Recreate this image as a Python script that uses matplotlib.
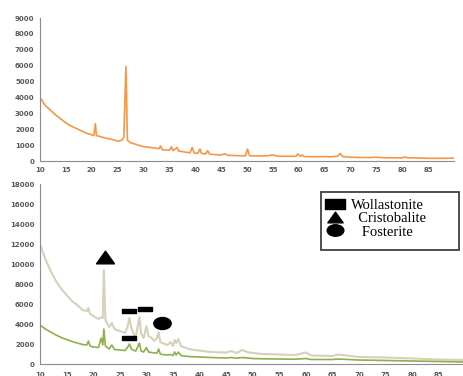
import matplotlib
matplotlib.use("Agg")
import matplotlib.pyplot as plt
from matplotlib.path import Path
from matplotlib.transforms import Affine2D
from matplotlib.lines import Line2D
from matplotlib.patches import Rectangle

# top pattern (orange)
top_x = [10, 11, 12, 13, 14, 15, 16, 17, 18, 19, 20, 20.4, 20.7, 20.9, 21.5, 22, 23, 24, 25,
         25.8, 26.2, 26.6, 26.9, 27.5, 28, 29, 30, 31, 32, 33, 33.3, 33.6, 34, 35, 35.4, 35.7,
         36.5, 36.8, 37.5, 38, 39, 39.4, 39.8, 40.5, 40.9, 41.2, 42, 42.4, 42.8, 44, 45, 45.8,
         46.2, 47, 48, 49, 49.7, 50.1, 50.5, 52, 54, 55, 56, 58, 59.5, 59.8, 60.3, 60.7, 61, 63,
         65, 66, 67.5, 68, 68.5, 70, 72, 74, 75, 76, 78, 80, 80.5, 81, 83, 85, 88, 90]
top_y = [4000, 3500, 3200, 2900, 2650, 2400, 2200, 2050, 1900, 1750, 1650, 1600, 2350, 1600, 1550,
         1500, 1420, 1350, 1250, 1300, 1500, 5950, 1300, 1150, 1100, 1000, 900, 870, 820, 780, 950,
         720, 700, 680, 900, 650, 850, 620, 600, 560, 520, 850, 500, 480, 750, 480, 450, 650, 430,
         400, 380, 450, 360, 350, 340, 330, 330, 750, 330, 320, 330, 380, 300, 300, 300, 450, 300,
         380, 280, 270, 280, 260, 300, 480, 280, 240, 220, 220, 240, 210, 200, 200, 260, 200, 190,
         170, 170, 180]

# bottom patterns
bot_x = [10, 11, 12, 13, 14, 15, 16, 17, 18, 18.8, 19.1, 19.4, 20, 21, 21.5, 21.8, 22, 22.3, 23,
         23.5, 24, 25, 26, 26.5, 26.8, 27.2, 27.7, 28, 28.7, 29, 29.5, 30, 30.4, 31, 31.5, 32,
         32.3, 32.6, 33, 34, 34.5, 35, 35.3, 35.6, 36, 36.5, 37, 38, 39, 40, 42, 45, 46, 47, 48,
         49, 50, 52, 55, 58, 60, 61, 65, 66, 70, 75, 80, 85, 90]
beige_y = [12000, 10500, 9300, 8300, 7500, 6900, 6300, 5900, 5400, 5300, 5600, 5000, 4800, 4500,
           4700, 4600, 9400, 4400, 3700, 4100, 3500, 3300, 3100, 3800, 4600, 3600, 2900, 2700, 4700,
           3000, 2600, 3800, 2800, 2600, 2300, 2600, 3200, 2200, 2100, 1900, 2200, 1800, 2400,
           2100, 2500, 1800, 1700, 1500, 1400, 1350, 1200, 1150, 1300, 1100, 1400, 1200, 1100,
           1000, 950, 900, 1150, 850, 800, 950, 700, 650, 550, 450, 400]
green_y = [3900, 3500, 3200, 2900, 2650, 2450, 2250, 2100, 1950, 1900, 2300, 1800, 1700, 1650,
           2600, 1900, 3500, 1800, 1500, 1900, 1450, 1400, 1350, 1700, 2000, 1500, 1350, 1300, 2100,
           1300, 1200, 1650, 1200, 1150, 1100, 1100, 1500, 1000, 950, 900, 950, 850, 1200, 900,
           1200, 850, 800, 750, 720, 700, 650, 600, 650, 580, 650, 600, 550, 520, 500, 480, 550,
           450, 450, 500, 400, 350, 300, 250, 200]

# phase markers
phases = ["Wollastonite", "Cristobalite", "Fosterite"]
wol_x = [26.8, 29.7, 26.8]
wol_y = [5300, 5500, 2600]
cri_x = [22.2]
cri_y = [10700]
fos_x = [33.0]
fos_y = [4100]

tick_color = "#595959"
spine_color = "#8c8c8c"

closed = [Path.MOVETO, Path.LINETO, Path.LINETO, Path.LINETO, Path.CLOSEPOLY]
rect_marker = Path([(-1.5, -0.5), (1.5, -0.5), (1.5, 0.5), (-1.5, 0.5), (-1.5, -0.5)], closed)
rect_leg = Path([(-1.0, -0.45), (1.0, -0.45), (1.0, 0.45), (-1.0, 0.45), (-1.0, -0.45)], closed)
tri_marker = Path([(-0.5, -0.35), (0.5, -0.35), (0.0, 0.35), (-0.5, -0.35)],
                  [Path.MOVETO, Path.LINETO, Path.LINETO, Path.CLOSEPOLY])
circ = Path.unit_circle()
ell_marker = Path(Affine2D().scale(1.45, 1.0).transform(circ.vertices), circ.codes)


def style_axes(ax, ymax, ystep):
    ax.set_xlim(10, 90)
    ax.set_ylim(0, ymax)
    ax.set_xticks(range(10, 90, 5))
    ax.set_yticks(range(0, ymax + 1, ystep))
    ax.tick_params(length=0, labelsize=5, colors=tick_color, pad=4)
    for t in ax.get_xticklabels() + ax.get_yticklabels():
        t.set_fontweight("bold")
    ax.spines["top"].set_visible(False)
    ax.spines["right"].set_visible(False)
    ax.spines["left"].set_color(spine_color)
    ax.spines["bottom"].set_color(spine_color)
    ax.patch.set_alpha(0)


fig = plt.figure(figsize=(4.63, 3.76), dpi=100)

ax1 = fig.add_axes([0.0864, 0.5718, 0.894, 0.3803])
ax1.plot(top_x, top_y, color="#F79646", lw=1.2)
style_axes(ax1, 9000, 1000)

ax2 = fig.add_axes([0.0864, 0.0319, 0.919, 0.4787])
ax2.plot(bot_x, beige_y, color="#D6D1B8", lw=1.5)
ax2.plot(bot_x, green_y, color="#8DB04A", lw=1.2)
style_axes(ax2, 18000, 2000)
ax2.tick_params(axis="x", pad=6)

ax2.plot(wol_x, wol_y, ls="none", marker=rect_marker, ms=10, color="black")
ax2.plot(cri_x, cri_y, ls="none", marker=tri_marker, ms=13, color="black")
ax2.plot(fos_x, fos_y, ls="none", marker=ell_marker, ms=12.5, color="black")

# legend frame drawn as a box (wider than its entries, as in the source figure)
fig.patches.append(Rectangle((321 / 463, 1 - 250 / 376), 138 / 463, 58 / 376,
                             transform=fig.transFigure, fill=True, facecolor="white",
                             edgecolor="#404040", lw=1.3, zorder=5))

handles = [
    Line2D([], [], ls="none", marker=rect_leg, ms=15, color="black"),
    Line2D([], [], ls="none", marker=tri_marker, ms=11, color="black"),
    Line2D([], [], ls="none", marker=ell_marker, ms=12, color="black"),
]
labels = [phases[0], "  " + phases[1], "   " + phases[2]]
leg = fig.legend(handles, labels, loc="upper left", bbox_to_anchor=(320 / 463, 1 - 196 / 376),
                 frameon=False, prop={"family": "Liberation Serif", "size": 10.5},
                 labelspacing=0.0, handletextpad=0.3, borderpad=0.2, handlelength=1.6,
                 borderaxespad=0)
leg.set_zorder(6)

fig.savefig("out.png", dpi=100)
